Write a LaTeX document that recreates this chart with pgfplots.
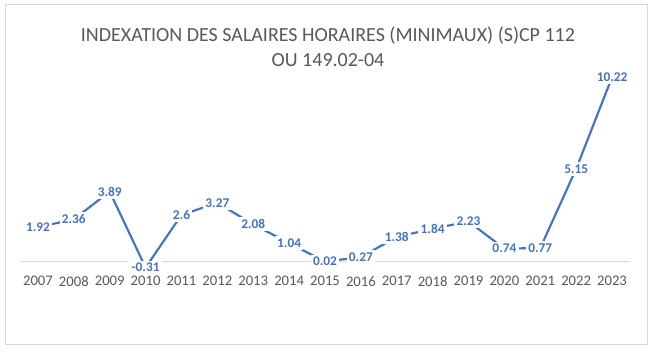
\documentclass[border=0pt]{standalone}
\usepackage{pgfplots}
\pgfplotsset{compat=1.18}
\usepackage{pgfplotstable}
\usepackage{fontspec}
\setmainfont{Carlito}
\definecolor{lineblue}{HTML}{4472C4}
\definecolor{txtgray}{HTML}{595959}
\definecolor{axgray}{HTML}{D9D9D9}
\pgfplotstableread{
x v lab
0 1.92 1.92
1 2.36 2.36
2 3.89 3.89
3 -0.31 -0.31
4 2.6 2.6
5 3.27 3.27
6 2.08 2.08
7 1.04 1.04
8 0.02 0.02
9 0.27 0.27
10 1.38 1.38
11 1.84 1.84
12 2.23 2.23
13 0.74 0.74
14 0.77 0.77
15 5.15 5.15
16 10.22 10.22
}\data
\begin{document}
\begin{tikzpicture}
\fill[white] (0,0) rectangle (493.5pt,269.25pt);
\useasboundingbox (0,0) rectangle (493.5pt,269.25pt);
\draw[axgray,line width=0.75pt] (3.75pt,10.5pt) rectangle (485.25pt,265.5pt);
\node[txtgray,font=\fontsize{15}{18.75}\selectfont,align=center,anchor=center] at (246pt,234pt) {INDEXATION DES SALAIRES HORAIRES (MINIMAUX) (S)CP 112\\OU 149.02-04};
\begin{axis}[
  at={(15pt,66pt)}, anchor=south west,
  scale only axis, width=457.5pt, height=169.5pt,
  xmin=-0.5, xmax=16.5, ymin=-0.5, ymax=12,
  clip=false,
  axis line style={draw=none},
  major tick length=0pt,
  ytick=\empty,
  xtick={0,...,16},
  xticklabels={2007,2008,2009,2010,2011,2012,2013,2014,2015,2016,2017,2018,2019,2020,2021,2022,2023},
  xticklabel style={font=\fontsize{11}{13}\selectfont, text=txtgray},
  xticklabel shift=0.5pt,
]
\addplot[axgray, line width=0.75pt] coordinates {(-0.5,0) (16.5,0)};
\addplot[lineblue, line width=1.6pt,
  point meta=explicit symbolic,
  nodes near coords,
  every node near coord/.append style={anchor=center, fill=white, inner sep=1.8pt, text=lineblue, font=\fontsize{10}{12}\selectfont\bfseries},
] table[x=x,y=v,meta=lab]{\data};
\end{axis}
\end{tikzpicture}
\end{document}
